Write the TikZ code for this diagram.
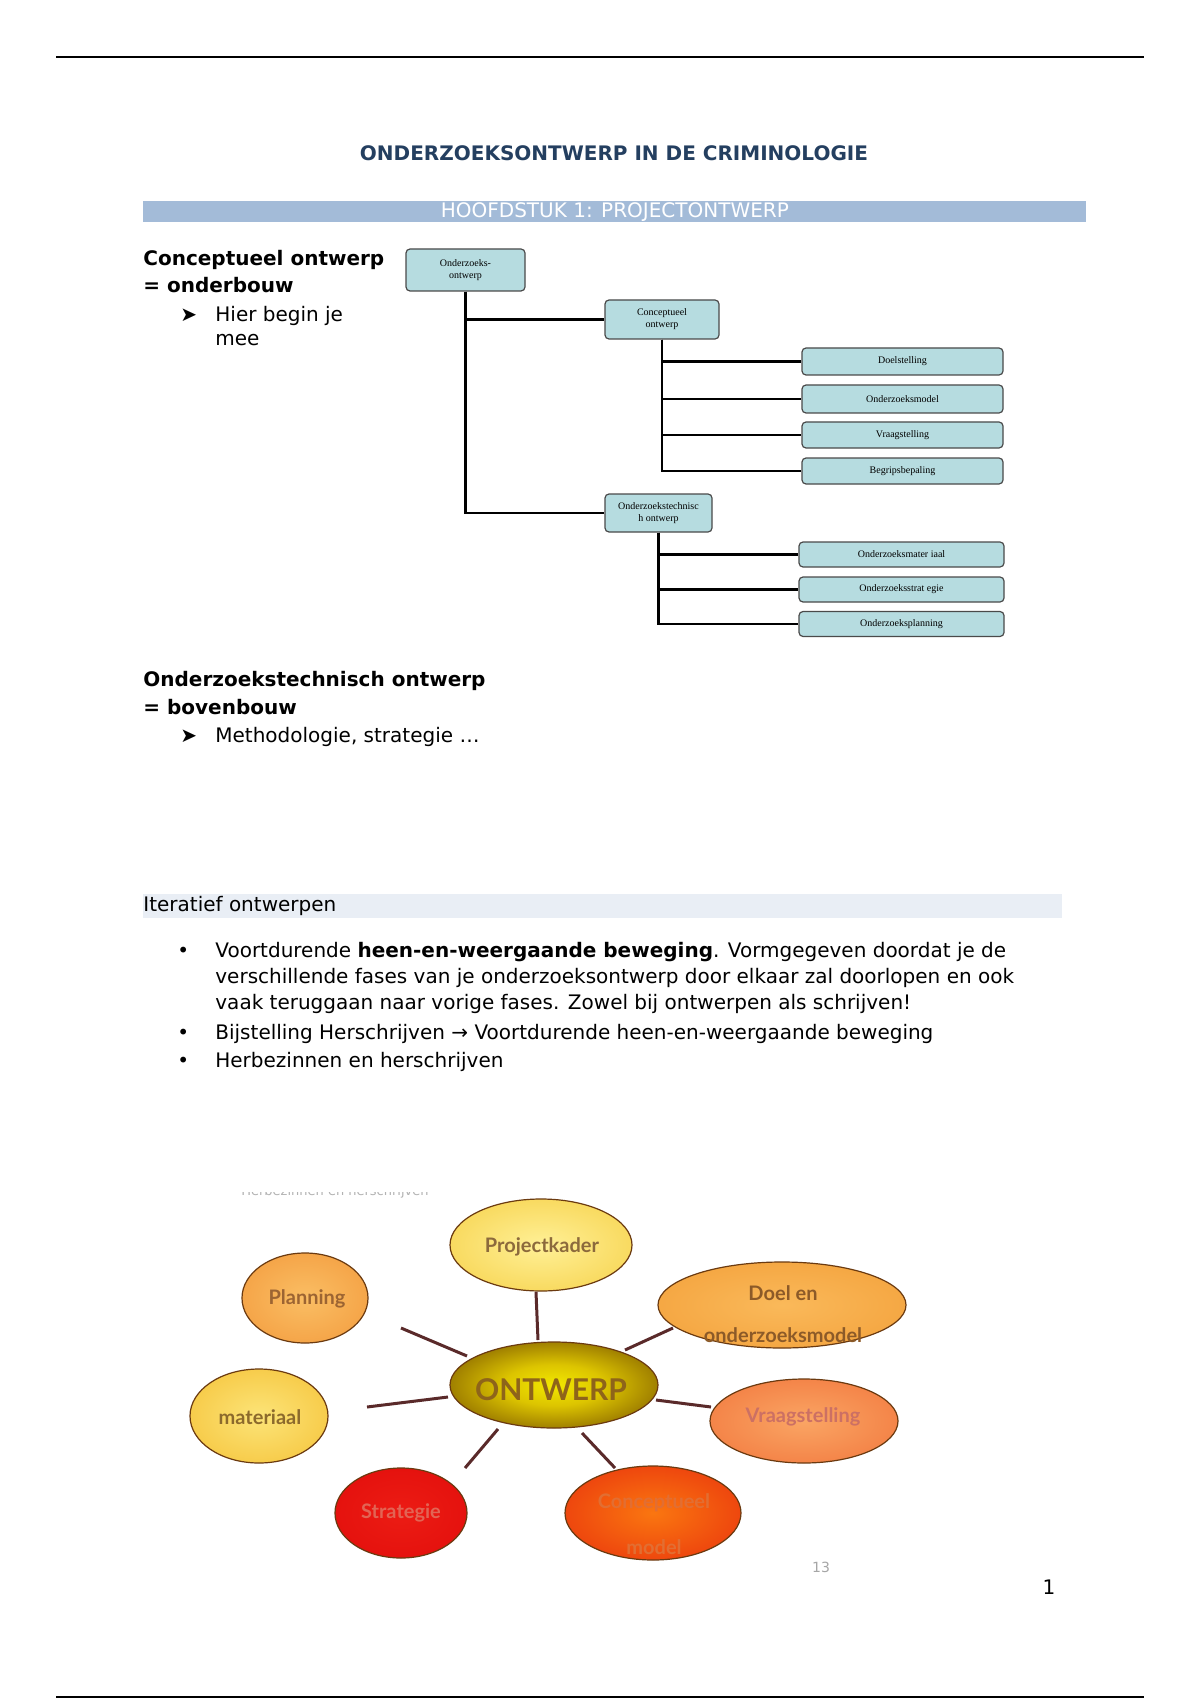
\documentclass[tikz,border=0pt]{standalone}
\usepackage{fontspec}
\setmainfont{DejaVu Sans}
\newfontfamily\treefont{Liberation Serif}
\newfontfamily\ellfont{Lato}
\usetikzlibrary{shapes.geometric}
\makeatletter
\pgfdeclareradialshading[tikz@radial@inner,tikz@radial@outer]{softrad}{\pgfpoint{0bp}{0bp}}{color(0bp)=(tikz@radial@inner); color(50bp)=(tikz@radial@outer); color(75bp)=(tikz@radial@outer)}
\makeatother
\definecolor{onA}{HTML}{F2E800}
\definecolor{onB}{HTML}{DCC400}
\definecolor{onC}{HTML}{A08000}
\definecolor{onE}{HTML}{5A3200}
\definecolor{onD}{HTML}{3C1A00}
\pgfdeclareradialshading{ontwerpshade}{\pgfpoint{0bp}{0bp}}{color(0bp)=(onA); color(12bp)=(onB); color(25bp)=(onC); color(36bp)=(onE); color(46bp)=(onD); color(50bp)=(onD)}
\definecolor{titleblue}{HTML}{243F60}
\definecolor{barblue}{HTML}{A3BBD8}
\definecolor{bandgray}{HTML}{E9EEF5}
\definecolor{treefill}{HTML}{B6DCE0}
\definecolor{boxline}{HTML}{4A4A4A}
\definecolor{ellline}{HTML}{6B3A10}
\definecolor{spokecol}{HTML}{5A2A2A}
\begin{document}
\begin{tikzpicture}[x=0.5pt,y=-0.5pt,
  body/.style={font=\fontsize{10}{12}\selectfont, inner sep=0, anchor=base west},
  bodyb/.style={body, font=\fontsize{10}{12}\selectfont\bfseries},
  tbox/.style={draw=boxline, fill=treefill, rounded corners=2pt, line width=0.6pt, inner sep=0, font=\treefont\fontsize{5}{6}\selectfont, align=center},
  tline/.style={line width=1.3pt, draw=black},
  ell/.style={ellipse, draw=ellline, line width=0.6pt, inner sep=0},
  elltext/.style={font=\ellfont\bfseries\fontsize{10}{12}\selectfont, inner sep=0},
  spoke/.style={line width=1.5pt, draw=spokecol}]
\fill[white] (0,0) rectangle (1200,1700);
\useasboundingbox (0,0) rectangle (1200,1700);

% page rules
\draw[line width=0.8pt] (56,57) -- (1144,57);
\draw[line width=0.8pt] (56,1697) -- (1144,1697);

% title and header bar
\node[font=\bfseries\fontsize{10}{12}\selectfont, text=titleblue, inner sep=0, anchor=base] (title) at (614,161) {ONDERZOEKSONTWERP IN DE CRIMINOLOGIE};
\node[fill=barblue, minimum width=471.5pt, minimum height=10.75pt, inner sep=0, anchor=north west] (bar) at (143,200.5) {};
\node[text=white, font=\fontsize{10}{12}\selectfont, inner sep=0] (bartext) at (bar.center) {HOOFDSTUK 1: PROJECTONTWERP};

% left texts
\node[bodyb] (co) at (143,266) {Conceptueel ontwerp};
\node[bodyb] (ob) at (143,293) {= onderbouw};
\node[body] (arr1) at (180,322) {➤};
\node[body] (hb1) at (215,322) {Hier begin je};
\node[body] (hb2) at (215,346) {mee};

\node[bodyb] (ot) at (143,686) {Onderzoekstechnisch ontwerp};
\node[bodyb] (bb) at (143,714) {= bovenbouw};
\node[body] (arr2) at (180,742) {➤};
\node[body] (ms) at (215,742) {Methodologie, strategie …};

% tree
\node[tbox, minimum width=59.5pt, minimum height=21pt] (root) at (465.5,270) {Onderzoeks-\\ontwerp};
\node[tbox, minimum width=57pt, minimum height=19.5pt] (conc) at (662,319.5) {Conceptueel\\ontwerp};
\node[tbox, minimum width=100.5pt, minimum height=13.5pt] (doel) at (902.5,361.5) {Doelstelling};
\node[tbox, minimum width=100.5pt, minimum height=14pt] (model) at (902.5,399) {Onderzoeksmodel};
\node[tbox, minimum width=100.5pt, minimum height=13pt] (vraag) at (902.5,435) {Vraagstelling};
\node[tbox, minimum width=100.5pt, minimum height=13pt] (begrip) at (902.5,471) {Begripsbepaling};
\node[tbox, minimum width=53.5pt, minimum height=19pt] (tech) at (658.5,513) {Onderzoekstechnisc\\h ontwerp};
\node[tbox, minimum width=102.5pt, minimum height=12.5pt] (mat) at (901.5,554.5) {Onderzoeksmater iaal};
\node[tbox, minimum width=102.5pt, minimum height=12.5pt] (strat) at (901.5,589.5) {Onderzoeksstrat egie};
\node[tbox, minimum width=102.5pt, minimum height=12.5pt] (plan) at (901.5,624) {Onderzoeksplanning};

\draw[tline] (root.south) |- (conc.west);
\draw[tline] (root.south) |- (tech.west);
\draw[tline] (conc.south) |- (doel.west);
\draw[tline] (conc.south) |- (model.west);
\draw[tline] (conc.south) |- (vraag.west);
\draw[tline] (conc.south) |- (begrip.west);
\draw[tline] (tech.south) |- (mat.west);
\draw[tline] (tech.south) |- (strat.west);
\draw[tline] (tech.south) |- (plan.west);

% Iteratief band
\node[fill=bandgray, minimum width=459.5pt, minimum height=12pt, inner sep=0, anchor=north west] (band) at (143,894) {};
\node[body] (it) at (143,911) {Iteratief ontwerpen};

\node[body] (b1) at (177,957) {•};
\node[body] (l1a) at (215,957) {Voortdurende \textbf{heen-en-weergaande beweging}. Vormgegeven doordat je de};
\node[body] (l1b) at (215,983) {verschillende fases van je onderzoeksontwerp door elkaar zal doorlopen en ook};
\node[body] (l1c) at (215,1009) {vaak teruggaan naar vorige fases. Zowel bij ontwerpen als schrijven!};
\node[body] (b2) at (177,1039) {•};
\node[body] (l2) at (215,1039) {Bijstelling Herschrijven → Voortdurende heen-en-weergaande beweging};
\node[body] (b3) at (177,1067) {•};
\node[body] (l3) at (215,1067) {Herbezinnen en herschrijven};

% bottom diagram: cut-off caption line
\begin{scope}
\clip (200,1192) rectangle (460,1205);
\node[font=\fontsize{6.5}{7}\selectfont, text=gray!60, inner sep=0] (tiny) at (335,1192) {Herbezinnen en herschrijven};
\end{scope}

\node[ell, minimum width=91pt, minimum height=46pt, inner color={rgb,255:red,255;green,240;blue,150}, outer color={rgb,255:red,242;green,196;blue,42}, shading=softrad] (pk) at (541,1245) {};
\node[ell, minimum width=63pt, minimum height=45pt, inner color={rgb,255:red,250;green,190;blue,100}, outer color={rgb,255:red,240;green,140;blue,45}, shading=softrad] (pl) at (305,1298) {};
\node[ell, minimum width=124pt, minimum height=43pt, inner color={rgb,255:red,250;green,185;blue,90}, outer color={rgb,255:red,240;green,150;blue,45}, shading=softrad] (de) at (782,1305) {};
\node[ell, minimum width=69pt, minimum height=47pt, inner color={rgb,255:red,252;green,228;blue,120}, outer color={rgb,255:red,242;green,180;blue,30}, shading=softrad] (ma) at (259,1416) {};
\node[ell, minimum width=94pt, minimum height=42pt, inner color={rgb,255:red,250;green,165;blue,100}, outer color={rgb,255:red,238;green,100;blue,45}, shading=softrad] (vr) at (804,1421) {};
\node[ell, minimum width=66pt, minimum height=45pt, inner color={rgb,255:red,236;green,28;blue,20}, outer color={rgb,255:red,222;green,8;blue,8}, shading=softrad] (st) at (401,1513) {};
\node[ell, minimum width=88pt, minimum height=47pt, inner color={rgb,255:red,250;green,118;blue,16}, outer color={rgb,255:red,226;green,24;blue,12}, shading=softrad] (cm) at (653,1513) {};
\node[ell, minimum width=104pt, minimum height=43pt, shading=ontwerpshade] (on) at (554,1385) {};

\node[elltext, text={rgb,255:red,140;green,106;blue,60}] (pkT) at (542,1247) {Projectkader};
\node[elltext, text={rgb,255:red,156;green,100;blue,50}] (plT) at (307,1299) {Planning};
\node[elltext, text={rgb,255:red,140;green,90;blue,40}] (deT1) at (783,1293) {Doel en};
\node[elltext, text={rgb,255:red,140;green,90;blue,40}] (deT2) at (783,1335) {onderzoeksmodel};
\node[elltext, text={rgb,255:red,140;green,106;blue,44}] (maT) at (260,1417) {materiaal};
\node[elltext, text={rgb,255:red,204;green,112;blue,100}] (vrT) at (803,1417) {Vraagstelling};
\node[elltext, text={rgb,255:red,226;green,100;blue,84}] (stT) at (401,1513) {Strategie};
\node[elltext, text={rgb,255:red,226;green,110;blue,50}] (cmT1) at (654,1503) {Conceptueel};
\node[elltext, text={rgb,255:red,226;green,110;blue,50}] (cmT2) at (654,1547) {model};
\node[font=\ellfont\bfseries\fontsize{15}{17}\selectfont, inner sep=0, text={rgb,255:red,142;green,100;blue,26}] (onT) at (551,1390) {ONTWERP};

% spokes
\coordinate (s1a) at (536,1292); \coordinate (s1b) at (538,1340);
\coordinate (s2a) at (401,1328); \coordinate (s2b) at (467,1356);
\coordinate (s3a) at (673,1328); \coordinate (s3b) at (625,1350);
\coordinate (s4a) at (367,1407); \coordinate (s4b) at (448,1397);
\coordinate (s5a) at (711,1407); \coordinate (s5b) at (656,1400);
\coordinate (s6a) at (465,1468); \coordinate (s6b) at (498,1429);
\coordinate (s7a) at (615,1468); \coordinate (s7b) at (582,1433);
\draw[spoke] (s1a) -- (s1b);
\draw[spoke] (s2a) -- (s2b);
\draw[spoke] (s3a) -- (s3b);
\draw[spoke] (s4a) -- (s4b);
\draw[spoke] (s5a) -- (s5b);
\draw[spoke] (s6a) -- (s6b);
\draw[spoke] (s7a) -- (s7b);

\node[font=\fontsize{7}{8}\selectfont, text=gray!70, inner sep=0] (p13) at (821,1567) {13};
\node[font=\fontsize{10}{12}\selectfont, inner sep=0, anchor=base] (pnum) at (1049,1594) {1};
\end{tikzpicture}
\end{document}
